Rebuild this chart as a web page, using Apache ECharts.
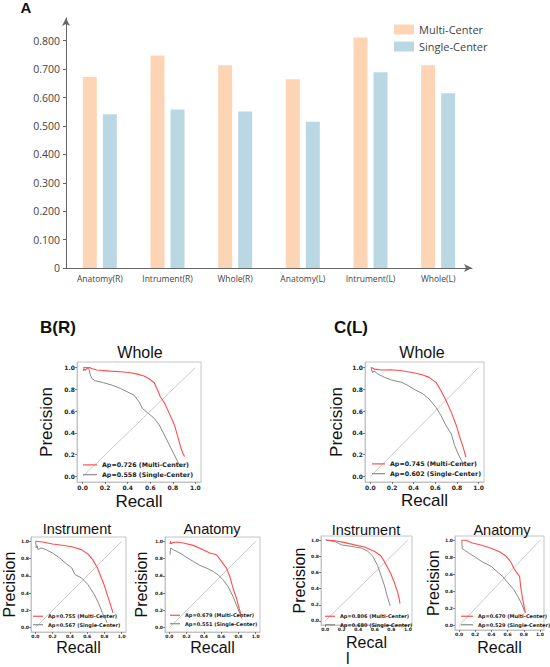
<!DOCTYPE html>
<html>
<head>
<meta charset="utf-8">
<script src="https://cdn.jsdelivr.net/npm/echarts@6/dist/echarts.min.js"></script>
<style>
  html, body { margin: 0; padding: 0; background: #fff; }
  #main { width: 550px; height: 667px; }
</style>
</head>
<body>
<div id="main"></div>
<script>
// 柱状图数据 (panel A)
const categories = ['Anatomy(R)', 'Intrument(R)', 'Whole(R)', 'Anatomy(L)', 'Intrument(L)', 'Whole(L)'];
const multiCenter = [0.672, 0.748, 0.714, 0.664, 0.811, 0.714];
const singleCenter = [0.541, 0.558, 0.551, 0.515, 0.689, 0.615];
const barTicks = [0, 0.1, 0.2, 0.3, 0.4, 0.5, 0.6, 0.7, 0.8];

// PR 曲线数据 [recall, precision]
const prTicks = [0, 0.2, 0.4, 0.6, 0.8, 1.0];
const diagonal = [[0, 0], [1, 1]];

const bwMulti = [[0.005,0.97],[0.012,0.99],[0.02,0.975],[0.04,0.99],[0.06,1.0],[0.08,0.99],[0.126,0.976],[0.246,0.966],[0.335,0.96],[0.425,0.951],[0.485,0.939],[0.545,0.921],[0.59,0.896],[0.635,0.86],[0.665,0.793],[0.689,0.732],[0.725,0.677],[0.769,0.579],[0.814,0.473],[0.844,0.366],[0.868,0.274],[0.889,0.213],[0.904,0.183]];
const bwSingle = [[0.005,1.0],[0.05,1.0],[0.06,0.97],[0.066,0.939],[0.081,0.899],[0.111,0.878],[0.186,0.86],[0.26,0.838],[0.335,0.808],[0.395,0.777],[0.455,0.747],[0.5,0.686],[0.53,0.625],[0.575,0.585],[0.635,0.534],[0.68,0.473],[0.725,0.381],[0.769,0.29],[0.814,0.198],[0.844,0.137],[0.859,0.107]];
const cwMulti = [[0.006,1.0],[0.038,0.985],[0.101,0.976],[0.196,0.979],[0.29,0.97],[0.385,0.954],[0.479,0.933],[0.543,0.909],[0.606,0.863],[0.653,0.787],[0.7,0.695],[0.748,0.588],[0.795,0.466],[0.826,0.36],[0.858,0.268],[0.883,0.177]];
const cwSingle = [[0.006,1.0],[0.02,0.95],[0.032,0.97],[0.069,0.939],[0.132,0.909],[0.196,0.884],[0.29,0.863],[0.353,0.832],[0.416,0.793],[0.479,0.762],[0.543,0.71],[0.606,0.634],[0.653,0.558],[0.7,0.466],[0.748,0.39],[0.779,0.284],[0.811,0.207],[0.842,0.146],[0.864,0.116]];
const biMulti = [[0.004,1.0],[0.086,0.992],[0.198,0.969],[0.31,0.954],[0.422,0.938],[0.534,0.904],[0.608,0.854],[0.664,0.788],[0.72,0.692],[0.757,0.596],[0.795,0.5],[0.832,0.385],[0.869,0.269],[0.899,0.173]];
const biSingle = [[0.004,1.0],[0.011,0.923],[0.02,0.95],[0.03,0.904],[0.067,0.923],[0.123,0.904],[0.198,0.865],[0.272,0.815],[0.347,0.75],[0.422,0.692],[0.459,0.615],[0.534,0.577],[0.608,0.5],[0.683,0.385],[0.739,0.269],[0.776,0.173],[0.813,0.096],[0.832,0.058]];
const baMulti = [[0.008,0.969],[0.015,1.0],[0.02,0.97],[0.04,0.985],[0.085,0.992],[0.162,0.981],[0.277,0.953],[0.392,0.903],[0.469,0.864],[0.546,0.845],[0.604,0.767],[0.662,0.69],[0.7,0.593],[0.738,0.457],[0.777,0.341],[0.808,0.225],[0.831,0.147]];
const baSingle = [[0.008,0.845],[0.015,0.922],[0.046,0.903],[0.123,0.864],[0.2,0.814],[0.277,0.767],[0.354,0.721],[0.431,0.69],[0.508,0.651],[0.565,0.612],[0.623,0.554],[0.681,0.477],[0.738,0.36],[0.777,0.264],[0.815,0.167],[0.838,0.109]];
const ciMulti = [[0.008,1.0],[0.119,0.992],[0.238,0.968],[0.357,0.94],[0.476,0.913],[0.595,0.861],[0.675,0.802],[0.734,0.702],[0.794,0.583],[0.833,0.484],[0.873,0.365],[0.893,0.286],[0.905,0.214]];
const ciSingle = [[0.008,1.0],[0.119,0.98],[0.198,0.94],[0.317,0.921],[0.437,0.901],[0.516,0.861],[0.575,0.802],[0.635,0.683],[0.675,0.563],[0.714,0.444],[0.746,0.325],[0.774,0.226],[0.786,0.187]];
const caMulti = [[0.028,1.0],[0.087,1.0],[0.165,0.969],[0.283,0.942],[0.402,0.904],[0.5,0.865],[0.579,0.815],[0.638,0.75],[0.677,0.673],[0.717,0.615],[0.748,0.577],[0.764,0.442],[0.787,0.308],[0.807,0.212],[0.819,0.154]];
const caSingle = [[0.035,1.0],[0.039,0.904],[0.067,0.885],[0.126,0.846],[0.205,0.8],[0.283,0.75],[0.402,0.692],[0.48,0.623],[0.539,0.577],[0.598,0.508],[0.677,0.423],[0.736,0.327],[0.776,0.25],[0.807,0.173],[0.819,0.154]];

const apMulti = ['Ap=0.726 (Multi-Center)', 'Ap=0.745 (Multi-Center)', 'Ap=0.755 (Multi-Center)', 'Ap=0.679 (Multi-Center)', 'Ap=0.806 (Multi-Center)', 'Ap=0.670 (Multi-Center)'];
const apSingle = ['Ap=0.558 (Single-Center)', 'Ap=0.602 (Single-Center)', 'Ap=0.567 (Single-Center)', 'Ap=0.551 (Single-Center)', 'Ap=0.680 (Single-Center)', 'Ap=0.529 (Single-Center)'];
const prTitles = ['Whole', 'Whole', 'Instrument', 'Anatomy', 'Instrument', 'Anatomy'];
const multiCurves = [bwMulti, cwMulti, biMulti, baMulti, ciMulti, caMulti];
const singleCurves = [bwSingle, cwSingle, biSingle, baSingle, ciSingle, caSingle];

// 每个小图的布局
const panels = [
  { left: 77,  top: 362, w: 124, h: 120, tick: 6,   leg: 6.3, legL: 83,  legT: 461, legW: 14, ttl: 16,   ttlX: 140, ttlY: 352, nm: 17, yGap: 22, xGap: 11 },
  { left: 365, top: 362, w: 119, h: 120, tick: 6,   leg: 6.3, legL: 372, legT: 460, legW: 13, ttl: 16,   ttlX: 422, ttlY: 352, nm: 17, yGap: 20, xGap: 10 },
  { left: 28,  top: 537, w: 98,  h: 95,  tick: 4.5, leg: 5,   legL: 33,  legT: 613, legW: 10, ttl: 14.5, ttlX: 77,  ttlY: 529, nm: 16, yGap: 14, xGap: 7 },
  { left: 165, top: 537, w: 95,  h: 95,  tick: 4.5, leg: 5,   legL: 170, legT: 612, legW: 10, ttl: 14.5, ttlX: 212, ttlY: 529, nm: 16, yGap: 16, xGap: 7 },
  { left: 321, top: 536, w: 91,  h: 94,  tick: 4.5, leg: 5,   legL: 325, legT: 613, legW: 10, ttl: 14.5, ttlX: 366, ttlY: 530, nm: 16, yGap: 7,  xGap: 9 },
  { left: 455, top: 536, w: 89,  h: 94,  tick: 4.5, leg: 5,   legL: 461, legT: 613, legW: 12, ttl: 14.5, ttlX: 502, ttlY: 530, nm: 16, yGap: 13, xGap: 9 }
];

const chart = echarts.init(document.getElementById('main'), null, { renderer: 'svg' });

const RED = '#ff4d4d';
const GRAY = '#8a8a8a';
const SANS = '"Liberation Sans", Arial, sans-serif';
const TICKFONT = '"DejaVu Sans", sans-serif';

const grids = [{ left: 66, top: 18, width: 406, height: 250 }];
const xAxes = [{
  type: 'category', gridIndex: 0, data: categories,
  axisLine: { symbol: ['none', 'arrow'], symbolSize: [6, 8], lineStyle: { color: '#666', width: 1 } },
  axisTick: { show: false },
  axisLabel: { interval: 0, color: '#444', fontSize: 8.5, margin: 6, fontFamily: '"Open Sans", sans-serif' }
}];
const yAxes = [{
  type: 'value', gridIndex: 0, min: 0, max: 0.88,
  splitLine: { show: false },
  axisLine: { show: true, symbol: ['none', 'arrow'], symbolSize: [6, 8], lineStyle: { color: '#666', width: 1 } },
  axisTick: { show: true, length: 3, customValues: barTicks, lineStyle: { color: '#666' } },
  axisLabel: {
    customValues: barTicks, color: '#444', fontSize: 10.5, margin: 6, fontFamily: '"Open Sans", sans-serif',
    formatter: v => (v === 0 ? '0' : v.toFixed(3))
  }
}];
const legends = [{
  data: ['Multi-Center', 'Single-Center'], orient: 'vertical', left: 394, top: 24,
  itemWidth: 20, itemHeight: 10, itemGap: 6, icon: 'rect', padding: 0,
  textStyle: { color: '#444', fontSize: 11, fontFamily: '"Open Sans", sans-serif' }
}];
const series = [
  { name: 'Multi-Center', type: 'bar', xAxisIndex: 0, yAxisIndex: 0, data: multiCenter, barWidth: 14, barGap: '43%', itemStyle: { color: '#fdd5b4' } },
  { name: 'Single-Center', type: 'bar', xAxisIndex: 0, yAxisIndex: 0, data: singleCenter, barWidth: 14, itemStyle: { color: '#bad8e3' } }
];
const graphics = [
  { type: 'text', x: 26, y: 7, style: { text: 'A', font: 'bold 15px ' + SANS, fill: '#111', align: 'center', verticalAlign: 'middle' } },
  { type: 'text', x: 58, y: 327, style: { text: 'B(R)', font: 'bold 17px ' + SANS, fill: '#111', align: 'center', verticalAlign: 'middle' } },
  { type: 'text', x: 351, y: 327, style: { text: 'C(L)', font: 'bold 17px ' + SANS, fill: '#111', align: 'center', verticalAlign: 'middle' } }
];

panels.forEach((p, k) => {
  const i = k + 1;
  grids.push({ left: p.left, top: p.top, width: p.w, height: p.h, show: true, borderColor: '#c4c4c4', borderWidth: 1, backgroundColor: '#fff' });
  const tickLabel = {
    customValues: prTicks, formatter: v => v.toFixed(1), fontSize: p.tick, fontWeight: 'bold',
    fontFamily: TICKFONT, color: '#222', margin: 2
  };
  const xName = k === 4
    ? { name: '{a|Recal}\n{b|l}', nameTextStyle: { rich: { a: { fontSize: p.nm, fontFamily: SANS, color: '#111', lineHeight: 16 }, b: { fontSize: p.nm, fontFamily: SANS, color: '#111', width: 40, align: 'left', lineHeight: 16 } } } }
    : { name: 'Recall', nameTextStyle: { fontSize: p.nm, fontFamily: SANS, color: '#111' } };
  xAxes.push(Object.assign({
    type: 'value', gridIndex: i, min: -0.05, max: 1.05,
    nameLocation: 'middle', nameGap: p.xGap,
    splitLine: { show: false },
    axisLine: { onZero: false, lineStyle: { color: '#c4c4c4' } },
    axisTick: { show: true, length: 2, customValues: prTicks, lineStyle: { color: '#333', width: 0.6 } },
    axisLabel: tickLabel
  }, xName));
  yAxes.push({
    type: 'value', gridIndex: i, min: -0.05, max: 1.05,
    name: 'Precision', nameLocation: 'middle', nameGap: p.yGap, nameRotate: 90,
    nameTextStyle: { fontSize: p.nm, fontFamily: SANS, color: '#111' },
    splitLine: { show: false },
    axisLine: { onZero: false, lineStyle: { color: '#c4c4c4' } },
    axisTick: { show: true, length: 2, customValues: prTicks, lineStyle: { color: '#333', width: 0.6 } },
    axisLabel: tickLabel
  });
  legends.push({
    data: [apMulti[k], apSingle[k]], orient: 'vertical', left: p.legL, top: p.legT,
    icon: 'rect', itemWidth: p.legW, itemHeight: 1.2, itemGap: 2, itemStyle: { borderWidth: 0 }, padding: 0,
    textStyle: { fontSize: p.leg, fontWeight: 'bold', fontFamily: TICKFONT, color: '#222', lineHeight: p.leg + 1.5 }
  });
  series.push(
    { name: 'diag' + i, type: 'line', xAxisIndex: i, yAxisIndex: i, data: diagonal, symbol: 'none', silent: true, lineStyle: { color: '#b5b5b5', width: 0.7 } },
    { name: apSingle[k], type: 'line', xAxisIndex: i, yAxisIndex: i, data: singleCurves[k], symbol: 'none', color: GRAY, lineStyle: { color: GRAY, width: 1 } },
    { name: apMulti[k], type: 'line', xAxisIndex: i, yAxisIndex: i, data: multiCurves[k], symbol: 'none', color: RED, lineStyle: { color: RED, width: 1.1 } }
  );
  graphics.push({ type: 'text', x: p.ttlX, y: p.ttlY, style: { text: prTitles[k], font: p.ttl + 'px ' + SANS, fill: '#111', align: 'center', verticalAlign: 'middle' } });
});

const option = {
  backgroundColor: '#fff',
  animation: false,
  grid: grids,
  xAxis: xAxes,
  yAxis: yAxes,
  legend: legends,
  series: series,
  graphic: graphics
};

option && chart.setOption(option);
</script>
</body>
</html>
